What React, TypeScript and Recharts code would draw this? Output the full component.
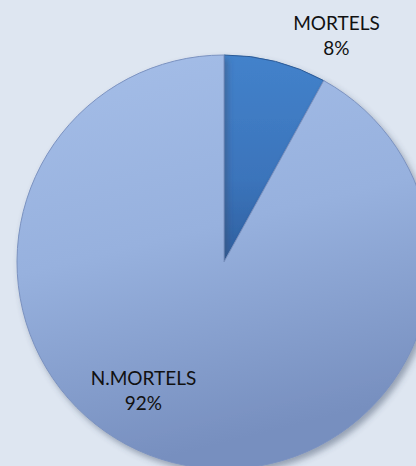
import { PieChart, Pie, Cell } from 'recharts'

const categories = ['MORTELS', 'N.MORTELS']
const shares = [8, 92]

const data = categories.map((name, i) => ({ name, value: shares[i] }))

// label placement around the pie: angle (deg) and distance as a factor of the radius
const labelSpots = [
  { angle: 63.6, dist: 1.222 },
  { angle: -122.2, dist: 0.73 },
]

const fills = ['url(#gradDark)', 'url(#gradLight)']
const strokes = ['#2c5a96', '#7b92c0']

const RADIAN = Math.PI / 180

const renderLabel = (props: any) => {
  const { cx, cy, outerRadius, index, name, percent } = props
  const spot = labelSpots[index]
  const r = outerRadius * spot.dist
  const x = cx + r * Math.cos(spot.angle * RADIAN)
  const y = cy - r * Math.sin(spot.angle * RADIAN)
  return (
    <text
      x={x}
      y={y}
      textAnchor="middle"
      fill="#111"
      fontSize={19}
      fontFamily="Lato, 'Liberation Sans', sans-serif"
    >
      <tspan x={x} dy={-5}>{name}</tspan>
      <tspan x={x} dy={25}>{`${Math.round(percent * 100)}%`}</tspan>
    </text>
  )
}

export default function App() {
  return (
    <div style={{ position: 'absolute', left: 0, top: 0, width: 416, height: 466, background: '#dee6f1', overflow: 'hidden' }}>
      <PieChart width={416} height={466} margin={{ top: 0, right: 0, bottom: 0, left: 0 }}>
        <defs>
          <linearGradient id="gradLight" x1="0" y1="0" x2="0.25" y2="1">
            <stop offset="0%" stopColor="#a5bee8" />
            <stop offset="50%" stopColor="#97b1de" />
            <stop offset="100%" stopColor="#778fbf" />
          </linearGradient>
          <linearGradient id="gradDark" x1="0" y1="0" x2="0" y2="1">
            <stop offset="0%" stopColor="#4382cb" />
            <stop offset="60%" stopColor="#3b74bb" />
            <stop offset="100%" stopColor="#2e5f9f" />
          </linearGradient>
          <filter id="pieShadow" x="-10%" y="-10%" width="125%" height="125%">
            <feDropShadow dx="3" dy="4" stdDeviation="3" floodColor="#3b4a66" floodOpacity="0.45" />
          </filter>
        </defs>
        <Pie
          data={data}
          dataKey="value"
          nameKey="name"
          cx={224}
          cy={262}
          outerRadius={207}
          startAngle={90}
          endAngle={-270}
          label={renderLabel}
          labelLine={false}
          isAnimationActive={false}
          style={{ filter: 'url(#pieShadow)' }}
        >
          {data.map((d, i) => (
            <Cell key={d.name} fill={fills[i]} stroke={strokes[i]} strokeWidth={1} />
          ))}
        </Pie>
      </PieChart>
    </div>
  )
}
